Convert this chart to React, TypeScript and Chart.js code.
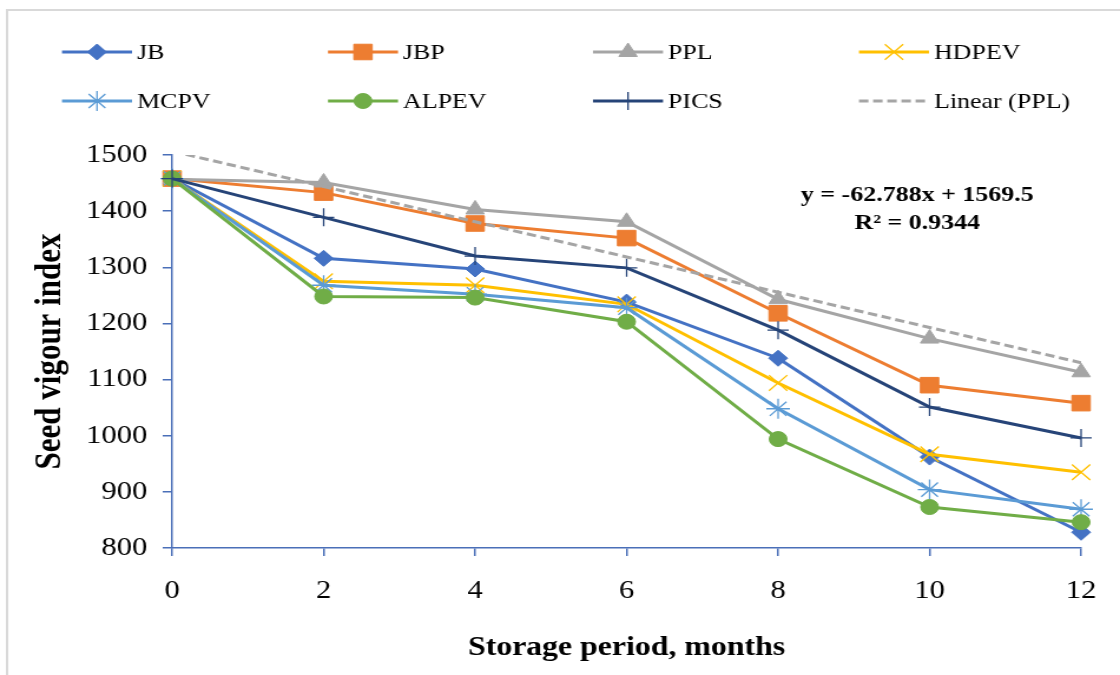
import React, { useEffect, useRef } from 'react';
import { Chart, registerables } from 'chart.js';
import { drawPoint } from 'chart.js/helpers';

Chart.register(...registerables);

// ---- data ----
const months = ['0', '2', '4', '6', '8', '10', '12'];
const JB = [1458, 1316, 1297, 1238, 1138, 962, 828];
const JBP = [1458, 1433, 1378, 1352, 1218, 1090, 1058];
const PPL = [1457, 1451, 1403, 1381, 1243, 1173, 1113];
const HDPEV = [1458, 1275, 1268, 1234, 1094, 967, 935];
const MCPV = [1458, 1268, 1252, 1228, 1048, 904, 869];
const ALPEV = [1458, 1248, 1246, 1203, 994, 873, 846];
const PICS = [1458, 1389, 1320, 1299, 1188, 1051, 996];
const trendPPL = [1506.7, 1443.9, 1381.1, 1318.4, 1255.6, 1192.8, 1130.0];
const yMin = 800;
const yMax = 1500;
const yStep = 100;
const equationLines = ['y = -62.788x + 1569.5', 'R\u00B2 = 0.9344'];
const xTitle = 'Storage period, months';
const yTitle = 'Seed vigour index';

// ---- styles ----
const W = 950; // logical canvas width, stretched to 1120 px (as in reference)
const H = 675;
const FONT = '"Liberation Serif", "Times New Roman", serif';
const AXIS = '#4a6fb8';

type S = { label: string; data: number[]; color: string; style: string; r: number; bw: number; dash?: number[] };
const SERIES: S[] = [
  { label: 'JB', data: JB, color: '#4472C4', style: 'rectRot', r: 8, bw: 1 },
  { label: 'JBP', data: JBP, color: '#ED7D31', style: 'rect', r: 11, bw: 1 },
  { label: 'PPL', data: PPL, color: '#A5A5A5', style: 'triangle', r: 9, bw: 1 },
  { label: 'HDPEV', data: HDPEV, color: '#FFC000', style: 'crossRot', r: 11, bw: 1.3 },
  { label: 'MCPV', data: MCPV, color: '#5B9BD5', style: 'star', r: 10, bw: 1.3 },
  { label: 'ALPEV', data: ALPEV, color: '#70AD47', style: 'circle', r: 7.5, bw: 1 },
  { label: 'PICS', data: PICS, color: '#264478', style: 'cross', r: 9, bw: 1.3 },
];
const TREND = { label: 'Linear (PPL)', data: trendPPL, color: '#A5A5A5', dash: [8, 4] };

const legendCols = [52.6, 278.2, 503, 728.6];
const legendRows = [52, 101];
const legendLineLen = 59.4;

const overlayPlugin = {
  id: 'overlay',
  beforeDraw(chart: any) {
    const ctx = chart.ctx;
    ctx.save();
    ctx.fillStyle = '#ffffff';
    ctx.fillRect(0, 0, W, H);
    ctx.strokeStyle = '#d9d9d9';
    ctx.lineWidth = 2;
    ctx.beginPath();
    ctx.moveTo(6, H);
    ctx.lineTo(6, 10);
    ctx.lineTo(W, 10);
    ctx.stroke();
    ctx.restore();
  },
  afterDraw(chart: any) {
    const ctx = chart.ctx;
    ctx.save();
    const items: any[] = [...SERIES, TREND];
    items.forEach((it, i) => {
      const x0 = legendCols[i % 4];
      const y = legendRows[Math.floor(i / 4)];
      ctx.strokeStyle = it.color;
      ctx.lineWidth = 3;
      ctx.setLineDash(it.dash || []);
      ctx.beginPath();
      ctx.moveTo(x0, y);
      ctx.lineTo(x0 + legendLineLen, y);
      ctx.stroke();
      ctx.setLineDash([]);
      if (it.style) {
        ctx.fillStyle = it.color;
        ctx.strokeStyle = it.color;
        ctx.lineWidth = it.bw;
        drawPoint(ctx, { pointStyle: it.style, rotation: 0, radius: it.r, borderWidth: it.bw }, x0 + legendLineLen / 2, y);
      }
      ctx.fillStyle = '#000';
      ctx.font = `22px ${FONT}`;
      ctx.textAlign = 'left';
      ctx.textBaseline = 'middle';
      ctx.fillText(it.label, x0 + legendLineLen + 4.2, y + 1);
    });
    ctx.fillStyle = '#000';
    ctx.font = `bold 22px ${FONT}`;
    ctx.textAlign = 'center';
    ctx.textBaseline = 'middle';
    ctx.fillText(equationLines[0], 778, 195);
    ctx.fillText(equationLines[1], 778, 223);
    ctx.restore();
  },
};

export default function App() {
  const ref = useRef<HTMLCanvasElement>(null);
  useEffect(() => {
    if (!ref.current) return;
    const n = SERIES.length;
    const datasets: any[] = SERIES.map((s, i) => ({
      label: s.label,
      data: s.data,
      borderColor: s.color,
      backgroundColor: s.color,
      borderWidth: 3,
      pointStyle: s.style,
      pointRadius: s.r,
      pointBorderWidth: s.bw,
      pointBackgroundColor: s.color,
      pointBorderColor: s.color,
      tension: 0,
      order: n + 1 - i,
    }));
    datasets.push({
      label: TREND.label,
      data: TREND.data,
      borderColor: TREND.color,
      borderWidth: 3,
      borderDash: TREND.dash,
      pointRadius: 0,
      tension: 0,
      clip: 0,
      order: 0,
    });
    const chart = new Chart(ref.current, {
      type: 'line',
      data: { labels: months, datasets },
      plugins: [overlayPlugin],
      options: {
        animation: false,
        responsive: false,
        devicePixelRatio: 1,
        layout: { padding: { top: 155, right: 23, left: 0, bottom: 0 } },
        plugins: { legend: { display: false }, tooltip: { enabled: false } },
        scales: {
          x: {
            type: 'category',
            offset: false,
            afterFit: (s: any) => { s.height = 127; },
            grid: { display: true, drawOnChartArea: false, drawTicks: true, tickLength: 8, color: AXIS, lineWidth: 1.5 },
            border: { display: true, color: AXIS, width: 1.5 },
            ticks: { color: '#000', font: { family: FONT, size: 26 }, padding: 20, maxRotation: 0, autoSkip: false },
            title: { display: true, text: xTitle, color: '#000', font: { family: FONT, size: 27, weight: 'bold' }, padding: { top: 0, bottom: 11 } },
          },
          y: {
            type: 'linear',
            min: yMin,
            max: yMax,
            afterFit: (s: any) => { s.width = 146; },
            grid: { display: true, drawOnChartArea: false, drawTicks: true, tickLength: 8, color: AXIS, lineWidth: 1.5 },
            border: { display: true, color: AXIS, width: 1.5 },
            ticks: { stepSize: yStep, color: '#000', font: { family: FONT, size: 26 }, padding: 13, callback: (v: any) => String(v) },
            title: { display: true, text: yTitle, color: '#000', font: { family: FONT, size: 31, weight: 'bold' }, padding: { top: 24, bottom: 0 } },
          },
        },
      } as any,
    });
    return () => chart.destroy();
  }, []);
  return (
    <div style={{ position: 'absolute', left: 0, top: 0, width: 1120, height: 675, background: '#fff' }}>
      <canvas ref={ref} width={W} height={H} style={{ width: '1120px', height: '675px', display: 'block' }} />
    </div>
  );
}
